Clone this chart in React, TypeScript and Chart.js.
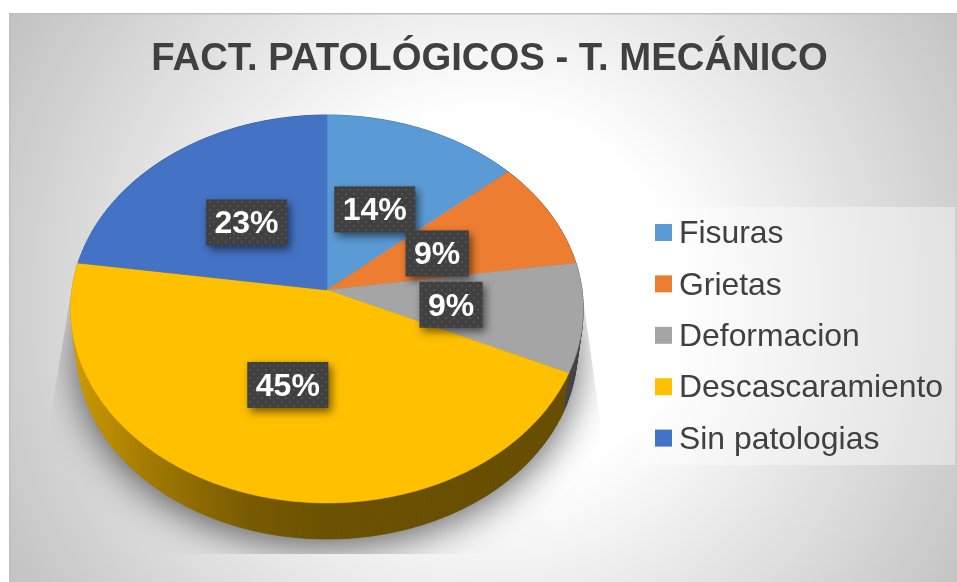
import React, { useEffect, useRef } from "react";
import { Chart, registerables } from "chart.js";

Chart.register(...registerables);

const titleText = "FACT. PATOLÓGICOS - T. MECÁNICO";
const categories = ["Fisuras", "Grietas", "Deformacion", "Descascaramiento", "Sin patologias"];
const seriesValues = [3, 2, 2, 10, 5];
const sliceColors = ["#5B9BD5", "#ED7D31", "#A5A5A5", "#FFC000", "#4472C4"];
// small nudges of each data label from the middle of its slice
const labelNudges = [[-3, 3], [-3.5, 2.5], [-3, 1], [-1.5, -1.8], [0, 2.5]];

const FONT = '"Liberation Sans", Arial, sans-serif';
const CX = 327, CY = 290, B = 255, A = 192.1, K = -0.098;
const DEPTH_SCALE = 0.977, DEPTH_Y = 41;

function proj(a: number, r = 1) {
  const u = r * Math.cos(a), v = r * Math.sin(a), w = 1 + K * v;
  return { x: CX + (B * u) / w, y: CY + (A * v) / w };
}
function projLow(a: number) {
  const p = proj(a);
  return { x: CX + DEPTH_SCALE * (p.x - CX), y: CY + DEPTH_Y + DEPTH_SCALE * (p.y - CY) };
}
function shade(hex: string, f: number) {
  const n = parseInt(hex.slice(1), 16);
  const c = [(n >> 16) & 255, (n >> 8) & 255, n & 255].map((x) => Math.round(x * f));
  return `rgb(${c[0]},${c[1]},${c[2]})`;
}
function wallGradient(ctx: CanvasRenderingContext2D, hex: string) {
  const g = ctx.createLinearGradient(70, 0, 585, 0);
  g.addColorStop(0, shade(hex, 0.82));
  g.addColorStop(0.16, shade(hex, 0.63));
  g.addColorStop(0.35, shade(hex, 0.47));
  g.addColorStop(0.5, shade(hex, 0.42));
  g.addColorStop(1, shade(hex, 0.4));
  return g;
}
function dotPattern(ctx: CanvasRenderingContext2D) {
  const c = document.createElement("canvas");
  c.width = 8;
  c.height = 8;
  const p = c.getContext("2d")!;
  p.fillStyle = "#404040";
  p.fillRect(0, 0, 8, 8);
  p.fillStyle = "#525252";
  p.fillRect(1, 1, 2, 2);
  p.fillRect(5, 5, 2, 2);
  return ctx.createPattern(c, "repeat")!;
}

const scenePlugin = {
  id: "scene",
  beforeDraw(chart: any) {
    const { ctx, width, height } = chart;
    ctx.save();
    ctx.fillStyle = "#ffffff";
    ctx.fillRect(0, 0, width, height);
    const g = ctx.createRadialGradient(490, 300, 0, 490, 300, 570);
    g.addColorStop(0, "#ffffff");
    g.addColorStop(0.33, "#ffffff");
    g.addColorStop(1, "#c0c0c0");
    ctx.fillStyle = g;
    ctx.fillRect(9, 13, width - 9, height - 13);
    ctx.fillStyle = "#bfbfbf";
    ctx.fillRect(9, 13, width - 9, 1.5);
    ctx.fillRect(9, 13, 1.5, height - 13);
    ctx.restore();
  },
  beforeDatasetsDraw(chart: any) {
    const { ctx } = chart;
    const arcs = chart.getDatasetMeta(0).data;
    const step = Math.PI / 180;

    // cast shadow
    ctx.save();
    ctx.beginPath();
    ctx.moveTo(76, 262);
    ctx.lineTo(50, 420);
    ctx.lineTo(50, 554);
    ctx.lineTo(600, 554);
    ctx.lineTo(600, 420);
    ctx.lineTo(578, 262);
    ctx.closePath();
    ctx.clip();
    ctx.shadowColor = "rgba(0,0,0,0.62)";
    ctx.shadowBlur = 38;
    ctx.shadowOffsetY = 7;
    ctx.fillStyle = "#666666";
    ctx.beginPath();
    for (let a = 0; a < Math.PI * 2; a += step) {
      const p = projLow(a);
      ctx.lineTo(p.x, p.y);
    }
    ctx.closePath();
    ctx.fill();
    ctx.restore();

    // side wall
    arcs.forEach((arc: any) => {
      const { startAngle, endAngle } = arc.getProps(["startAngle", "endAngle"], true);
      const fill = wallGradient(ctx, arc.options.backgroundColor);
      ctx.save();
      ctx.fillStyle = fill;
      ctx.strokeStyle = fill;
      ctx.lineWidth = 0.6;
      for (let a = startAngle; a < endAngle; a += step) {
        const b = Math.min(a + step, endAngle);
        const p1 = proj(a), p2 = proj(b), p3 = projLow(b), p4 = projLow(a);
        ctx.beginPath();
        ctx.moveTo(p1.x, p1.y);
        ctx.lineTo(p2.x, p2.y);
        ctx.lineTo(p3.x, p3.y);
        ctx.lineTo(p4.x, p4.y);
        ctx.closePath();
        ctx.fill();
        ctx.stroke();
      }
      ctx.restore();
    });

    // top face
    arcs.forEach((arc: any) => {
      const { startAngle, endAngle } = arc.getProps(["startAngle", "endAngle"], true);
      ctx.save();
      ctx.fillStyle = arc.options.backgroundColor;
      ctx.strokeStyle = arc.options.backgroundColor;
      ctx.lineWidth = 0.5;
      ctx.beginPath();
      ctx.moveTo(CX, CY);
      for (let a = startAngle; a < endAngle; a += step / 2) {
        const p = proj(a);
        ctx.lineTo(p.x, p.y);
      }
      const e = proj(endAngle);
      ctx.lineTo(e.x, e.y);
      ctx.closePath();
      ctx.fill();
      ctx.stroke();
      ctx.restore();
    });
    return false;
  },
  afterDraw(chart: any) {
    const { ctx } = chart;
    const arcs = chart.getDatasetMeta(0).data;
    const labels: string[] = chart.data.labels;
    const values: number[] = chart.data.datasets[0].data;
    const total = values.reduce((s, v) => s + v, 0);
    const pattern = dotPattern(ctx);

    // legend
    ctx.save();
    ctx.fillStyle = "rgba(255,255,255,0.38)";
    ctx.fillRect(640, 207, 315, 258);
    ctx.textBaseline = "middle";
    ctx.textAlign = "left";
    ctx.font = `31.9px ${FONT}`;
    labels.forEach((label, i) => {
      const y = 232.5 + i * 51.4;
      ctx.fillStyle = arcs[i].options.backgroundColor;
      ctx.fillRect(655, y - 8.5, 17, 17);
      ctx.fillStyle = "#404040";
      ctx.fillText(label, 679, y + 2);
    });
    ctx.restore();

    // data labels
    arcs.forEach((arc: any, i: number) => {
      const { startAngle, endAngle } = arc.getProps(["startAngle", "endAngle"], true);
      const p = proj((startAngle + endAngle) / 2, 0.5);
      const x = p.x + labelNudges[i][0], y = p.y + labelNudges[i][1];
      const text = `${Math.round((values[i] / total) * 100)}%`;
      ctx.save();
      ctx.font = `bold 32px ${FONT}`;
      const w = ctx.measureText(text).width + 17;
      ctx.shadowColor = "rgba(0,0,0,0.55)";
      ctx.shadowBlur = 8;
      ctx.shadowOffsetX = 3;
      ctx.shadowOffsetY = 4;
      ctx.fillStyle = pattern;
      ctx.fillRect(x - w / 2, y - 23, w, 46);
      ctx.shadowColor = "transparent";
      ctx.fillStyle = "#ffffff";
      ctx.textAlign = "center";
      ctx.textBaseline = "middle";
      ctx.fillText(text, x, y + 2);
      ctx.restore();
    });
  },
};

export default function App() {
  const ref = useRef<HTMLCanvasElement>(null);
  useEffect(() => {
    const chart = new Chart(ref.current!, {
      type: "pie",
      data: {
        labels: categories,
        datasets: [{ data: seriesValues, backgroundColor: sliceColors, borderWidth: 0 }],
      },
      options: {
        responsive: false,
        animation: false,
        layout: { padding: { left: 22, top: 36 } },
        plugins: {
          legend: { display: false },
          tooltip: { enabled: false },
          title: {
            display: true,
            text: titleText,
            color: "#404040",
            padding: 0,
            font: { family: FONT, size: 38.3, weight: "bold" },
          },
        },
      },
      plugins: [scenePlugin],
    } as any);
    return () => chart.destroy();
  }, []);
  return (
    <div style={{ position: "fixed", left: 0, top: 0, width: 957, height: 582 }}>
      <canvas ref={ref} width={957} height={582} style={{ display: "block" }} />
    </div>
  );
}
